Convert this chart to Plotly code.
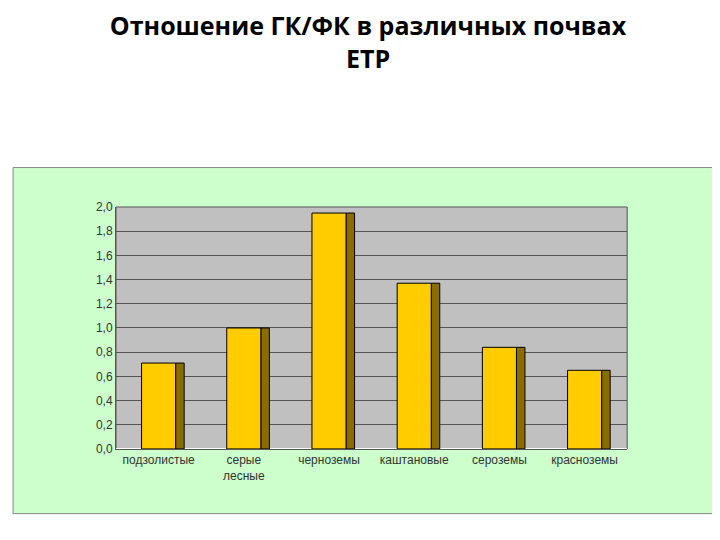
import plotly.graph_objects as go

soils = ["подзолистые", "серые<br>лесные", "черноземы", "каштановые", "сероземы", "красноземы"]
ratio = [0.71, 1.0, 1.95, 1.37, 0.84, 0.65]

fig = go.Figure()
# side faces to suggest depth
fig.add_trace(go.Bar(
    x=soils, y=ratio, width=0.1, offset=0.2,
    marker=dict(color="#8a6d00", line=dict(color="black", width=1)),
    hoverinfo="skip", showlegend=False,
))
fig.add_trace(go.Bar(
    x=soils, y=ratio, width=0.4, offset=-0.2,
    marker=dict(color="#ffcc00", line=dict(color="black", width=1)),
    showlegend=False,
))

# green panel behind the chart, then the gray wall
fig.add_shape(type="rect", xref="paper", yref="paper",
              x0=0.007, x1=0.986, y0=0.052, y1=0.71,
              fillcolor="#ccffcc", line=dict(color="#888888", width=1), layer="below")
fig.add_shape(type="rect", xref="x domain", yref="y domain",
              x0=0, x1=1, y0=0, y1=1,
              fillcolor="#c0c0c0", line=dict(color="#555555", width=1), layer="below")

fig.update_layout(
    width=720, height=540,
    margin=dict(l=0, r=0, t=0, b=0),
    paper_bgcolor="white",
    plot_bgcolor="#c0c0c0",
    separators=",.",
    barmode="overlay",
    title=dict(text="<b>Отношение ГК/ФК в различных почвах<br>ЕТР</b>",
               x=0.5, y=0.95, xanchor="center", yanchor="top",
               font=dict(family="Open Sans", size=25, color="black")),
    xaxis=dict(domain=[0.15, 0.86], tickfont=dict(family="Liberation Sans", size=12, color="#333"),
               showline=True, linecolor="#555"),
    yaxis=dict(domain=[0.175, 0.635], range=[0, 2.0], dtick=0.2, tickformat=".1f",
               gridcolor="#555", showline=True, linecolor="#555",
               tickfont=dict(family="Liberation Sans", size=12, color="#333")),
)
fig.write_html("out.html")
